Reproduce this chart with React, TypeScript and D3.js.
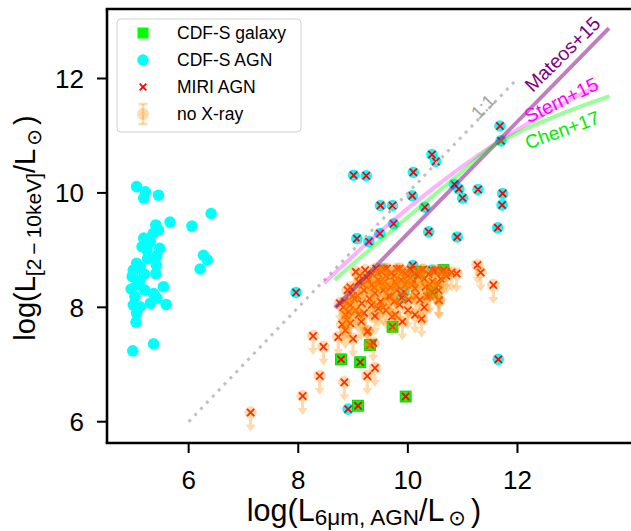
import React from "react";
import * as d3 from "d3";

// ---------- data ----------
const agnOnlyX = [5.05, 5.21, 5.18, 5.45, 6.41, 5.66, 6.06, 5.40, 5.35, 5.18, 5.15, 5.24, 5.47, 5.42, 6.27, 6.34, 6.21, 5.05, 4.99, 4.97, 5.19, 5.41, 5.40, 5.05, 4.95, 5.54, 5.36, 5.02, 4.99, 5.11, 5.30, 5.42, 5.59, 5.05, 5.04, 4.98, 5.36, 5.10, 5.25, 5.30, 5.20, 5.45, 5.12];
const agnOnlyY = [10.11, 10.02, 9.91, 9.96, 9.64, 9.49, 9.42, 9.44, 9.29, 9.21, 9.06, 9.00, 9.03, 8.90, 8.91, 8.83, 8.67, 8.77, 8.65, 8.54, 8.58, 8.74, 8.59, 8.39, 8.32, 8.36, 8.24, 8.19, 8.04, 8.01, 8.07, 8.16, 8.05, 7.90, 7.74, 7.24, 7.36, 8.45, 8.85, 9.15, 8.30, 9.35, 8.70];

const agnMiriX = [9.01, 9.24, 10.10, 10.44, 10.51, 10.85, 10.93, 11.00, 11.28, 11.73, 11.72, 11.64, 11.70, 11.68, 10.08, 9.50, 9.72, 10.31, 9.74, 9.49, 9.29, 9.07, 10.38, 10.90, 7.96, 11.65, 8.91, 9.55, 10.09, 10.12, 9.93, 9.89, 10.44];
const agnMiriY = [10.31, 10.30, 10.36, 10.67, 10.55, 10.15, 10.07, 9.91, 10.06, 9.99, 9.79, 9.39, 10.91, 11.17, 9.95, 9.78, 9.78, 9.75, 9.46, 9.29, 9.15, 9.20, 9.32, 9.23, 8.26, 7.09, 6.22, 8.67, 8.73, 8.59, 8.27, 8.17, 8.65];

const galX = [9.72, 9.31, 8.78, 9.13, 9.96, 9.09, 10.65, 10.44, 10.20];
const galY = [7.66, 7.34, 7.09, 7.04, 6.44, 6.28, 8.65, 8.27, 8.62];

const noXrayX = [9.57, 9.80, 10.26, 10.50, 10.89, 9.10, 9.34, 9.46, 9.59, 9.77, 9.95, 10.13, 10.32, 10.56, 9.68, 10.22, 10.01, 10.35, 10.56, 8.76, 8.95, 9.16, 9.34, 9.46, 8.86, 9.10, 8.95, 8.86, 9.27, 9.77, 10.13, 9.25, 8.89, 8.73, 9.71, 10.57,
  8.27, 8.46, 9.26, 9.40, 9.26, 8.39, 8.84, 8.08, 7.13, 9.37, 11.27, 11.33, 11.56, 10.80, 10.70,
  9.00, 9.20, 9.40, 9.60, 9.80, 10.00, 10.10, 10.30, 10.40, 9.70, 9.90, 10.20, 10.60, 9.50, 9.30, 8.90, 9.05, 9.15, 9.60, 10.00, 10.30, 9.85, 10.45, 10.70, 9.45, 8.85, 9.55, 10.15, 9.90, 10.25,
  9.05, 9.12, 9.22, 9.35, 9.42, 9.52, 9.62, 9.75, 9.85, 9.95, 10.05, 10.18, 10.28, 10.38, 10.48, 9.18, 9.28, 9.38, 9.48, 9.58, 9.68, 9.78, 9.88, 9.98, 10.08, 8.95, 9.02, 8.82, 8.92, 9.08, 9.65, 9.75, 10.40, 10.55, 9.20, 9.40, 9.55, 8.80, 9.00, 10.62];
const noXrayY = [8.67, 8.67, 8.65, 8.65, 8.59, 8.45, 8.39, 8.48, 8.36, 8.45, 8.39, 8.33, 8.36, 8.30, 8.19, 8.13, 8.13, 8.19, 8.13, 8.07, 8.04, 8.07, 8.04, 7.98, 7.87, 7.87, 7.72, 7.60, 7.59, 7.87, 7.87, 8.52, 7.78, 7.48, 7.84, 8.12,
  7.50, 7.31, 7.57, 6.94, 6.80, 6.80, 6.69, 6.45, 6.16, 7.38, 8.74, 8.61, 8.39, 8.61, 8.62,
  8.20, 8.30, 8.25, 8.55, 8.30, 8.55, 8.45, 8.50, 8.40, 8.60, 8.62, 8.62, 8.50, 8.10, 8.15, 8.30, 7.95, 7.75, 7.95, 7.95, 8.00, 8.05, 8.45, 8.55, 8.60, 8.10, 8.30, 8.20, 7.75, 7.80,
  8.62, 8.55, 8.65, 8.58, 8.68, 8.62, 8.68, 8.55, 8.68, 8.60, 8.66, 8.55, 8.66, 8.58, 8.62, 8.40, 8.48, 8.35, 8.42, 8.45, 8.35, 8.40, 8.48, 8.45, 8.40, 8.35, 8.15, 8.00, 7.92, 8.20, 8.20, 8.10, 8.20, 8.40, 7.90, 7.85, 8.00, 7.70, 7.45, 8.62];

const oneX = [6, 12];
const oneY = [6, 12];
const mateosX = [8.67, 13.67];
const mateosY = [7.99, 12.88];
const sternX = [8.47, 9.5, 10.5, 11.5, 12.5, 13.48];
const sternY = [8.42, 9.33, 10.11, 10.80, 11.39, 11.88];
const chenX = [8.66, 10.0, 11.0, 11.6, 12.0, 12.8, 13.68];
const chenY = [8.48, 9.58, 10.38, 10.85, 11.05, 11.38, 11.69];

const xTicks = [6, 8, 10, 12];
const yTicks = [6, 8, 10, 12];

const legendLabels = ["CDF-S galaxy", "CDF-S AGN", "MIRI AGN", "no X-ray"];

// ---------- chart ----------
const W = 631, H = 531;
const FONT = "'Liberation Sans', Arial, sans-serif";

export default function App() {
  const x = d3.scaleLinear().domain([4.51, 14.09]).range([107, 632]);
  const y = d3.scaleLinear().domain([5.628, 13.215]).range([443, 9]);

  const line = (xs: number[], ys: number[], curve = d3.curveLinear) =>
    d3.line<number>().x((_, i) => x(xs[i])).y((_, i) => y(ys[i])).curve(curve)(xs.map((_, i) => i)) || "";

  const orange = "rgba(255,140,0,0.32)";
  const arrowPath = (cx: number, cy: number) =>
    `M${cx - 1.6},${cy + 6} L${cx + 1.6},${cy + 6} L${cx + 1.6},${cy + 12} L${cx + 5},${cy + 12} L${cx},${cy + 19} L${cx - 5},${cy + 12} L${cx - 1.6},${cy + 12} Z`;

  const xMark = (cx: number, cy: number, key: string, s = 3.6) => (
    <path key={key} d={`M${cx - s},${cy - s}L${cx + s},${cy + s}M${cx - s},${cy + s}L${cx + s},${cy - s}`} stroke="#ff0000" strokeWidth={1.8} fill="none" />
  );

  const allMiriX = [...galX, ...agnMiriX, ...noXrayX];
  const allMiriY = [...galY, ...agnMiriY, ...noXrayY];

  const legX = 143;
  const legRows = [33, 60, 87, 114];

  return (
    <div style={{ position: "absolute", left: 0, top: 0 }}>
      <svg width={W} height={H} style={{ display: "block", background: "#fff" }} fontFamily={FONT}>
        <defs>
          <clipPath id="plotclip">
            <rect x={107} y={9} width={530} height={434} />
          </clipPath>
        </defs>
        <g clipPath="url(#plotclip)">
          {agnOnlyX.map((v, i) => (
            <circle key={"a" + i} cx={x(v)} cy={y(agnOnlyY[i])} r={5.8} fill="#00ffff" />
          ))}
          {agnMiriX.map((v, i) => (
            <circle key={"m" + i} cx={x(v)} cy={y(agnMiriY[i])} r={5.8} fill="#00ffff" />
          ))}
          {galX.map((v, i) => (
            <rect key={"g" + i} x={x(v) - 5.5} y={y(galY[i]) - 5.5} width={11} height={11} fill="#00ff00" stroke="#00c800" strokeWidth={0.8} />
          ))}
          {allMiriX.map((v, i) => xMark(x(v), y(allMiriY[i]), "x" + i))}
          {noXrayX.map((v, i) => (
            <g key={"n" + i}>
              <path d={arrowPath(x(v), y(noXrayY[i]))} fill={orange} />
              <circle cx={x(v)} cy={y(noXrayY[i])} r={6.2} fill={orange} />
            </g>
          ))}

          {/* relations */}
          <path d={line(oneX, oneY)} stroke="#c0c0c0" strokeWidth={3} strokeDasharray="3,5.5" fill="none" />
          <path d={line(mateosX, mateosY)} stroke="purple" strokeOpacity={0.5} strokeWidth={4} fill="none" />
          <path d={line(sternX, sternY, d3.curveMonotoneX)} stroke="magenta" strokeOpacity={0.3} strokeWidth={4} fill="none" />
          <path d={line(chenX, chenY, d3.curveMonotoneX)} stroke="lime" strokeOpacity={0.4} strokeWidth={4} fill="none" />
        </g>

        {/* relation labels */}
        <text x={483} y={106.5} dy="0.35em" fontSize={18} fill="#a0a0a0" textAnchor="middle" transform="rotate(-46 483 106.5)">1:1</text>
        <text x={562.5} y={54} dy="0.35em" fontSize={19.5} fill="purple" textAnchor="middle" transform="rotate(-44.6 562.5 54)">Mateos+15</text>
        <text x={561.3} y={100} dy="0.35em" fontSize={19.5} fill="magenta" textAnchor="middle" transform="rotate(-26 561.3 100)">Stern+15</text>
        <text x={562.3} y={130} dy="0.35em" fontSize={19} fill="#00ee00" textAnchor="middle" transform="rotate(-20 562.3 130)">Chen+17</text>

        {/* spines */}
        <line x1={107} y1={9} x2={107} y2={443} stroke="#000" strokeWidth={2.6} />
        <line x1={105.7} y1={443} x2={632} y2={443} stroke="#000" strokeWidth={2.6} />
        <line x1={105.7} y1={9} x2={632} y2={9} stroke="#000" strokeWidth={2.6} />

        {/* ticks */}
        {xTicks.map((t) => (
          <g key={"xt" + t}>
            <line x1={x(t)} x2={x(t)} y1={443} y2={453} stroke="#000" strokeWidth={2} />
            <text x={x(t)} y={489} fontSize={26} textAnchor="middle" fill="#000">{t}</text>
          </g>
        ))}
        {yTicks.map((t) => (
          <g key={"yt" + t}>
            <line x1={97} x2={107} y1={y(t)} y2={y(t)} stroke="#000" strokeWidth={2} />
            <text x={84} y={y(t) + 9.5} fontSize={26} textAnchor="end" fill="#000">{t}</text>
          </g>
        ))}

        {/* axis labels */}
        <text x={364} y={521} fontSize={30.5} textAnchor="middle" fill="#000">
          log(L<tspan fontSize={22.5} dy={3.5}>6μm, AGN</tspan><tspan dy={-3.5}>/L</tspan><tspan fontSize={21} dy={3.5} dx={4} fontFamily="'DejaVu Sans'">⊙</tspan><tspan dy={-3.5} dx={5}>)</tspan>
        </text>
        <text x={0} y={0} fontSize={29} textAnchor="middle" fill="#000" transform="translate(35 228) rotate(-90)">
          log(L<tspan fontSize={21} dy={6}>[2</tspan><tspan fontSize={21} dx={4}>−</tspan><tspan fontSize={21} dx={4}>10keV]</tspan><tspan dy={-6}>/L</tspan><tspan fontSize={20} dy={6} dx={3} fontFamily="'DejaVu Sans'">⊙</tspan><tspan dy={-6} dx={4}>)</tspan>
        </text>

        {/* legend */}
        <rect x={117} y={19} width={184} height={113} rx={4} fill="#fff" fillOpacity={0.8} stroke="#d0d0d0" strokeWidth={1} />
        <rect x={legX - 5.5} y={legRows[0] - 5.5} width={11} height={11} fill="#00ff00" />
        <circle cx={legX} cy={legRows[1]} r={5.8} fill="#00ffff" />
        {xMark(legX, legRows[2], "legx", 3.3)}
        <g>
          <line x1={legX} x2={legX} y1={legRows[3] - 10} y2={legRows[3] + 10} stroke={orange} strokeWidth={2.5} />
          <line x1={legX - 4.5} x2={legX + 4.5} y1={legRows[3] - 10} y2={legRows[3] - 10} stroke={orange} strokeWidth={2.5} />
          <line x1={legX - 4.5} x2={legX + 4.5} y1={legRows[3] + 10} y2={legRows[3] + 10} stroke={orange} strokeWidth={2.5} />
          <circle cx={legX} cy={legRows[3]} r={6} fill={orange} />
        </g>
        {legendLabels.map((l, i) => (
          <text key={l} x={177} y={legRows[i] + 6.3} fontSize={17.5} fill="#000">{l}</text>
        ))}
      </svg>
    </div>
  );
}
